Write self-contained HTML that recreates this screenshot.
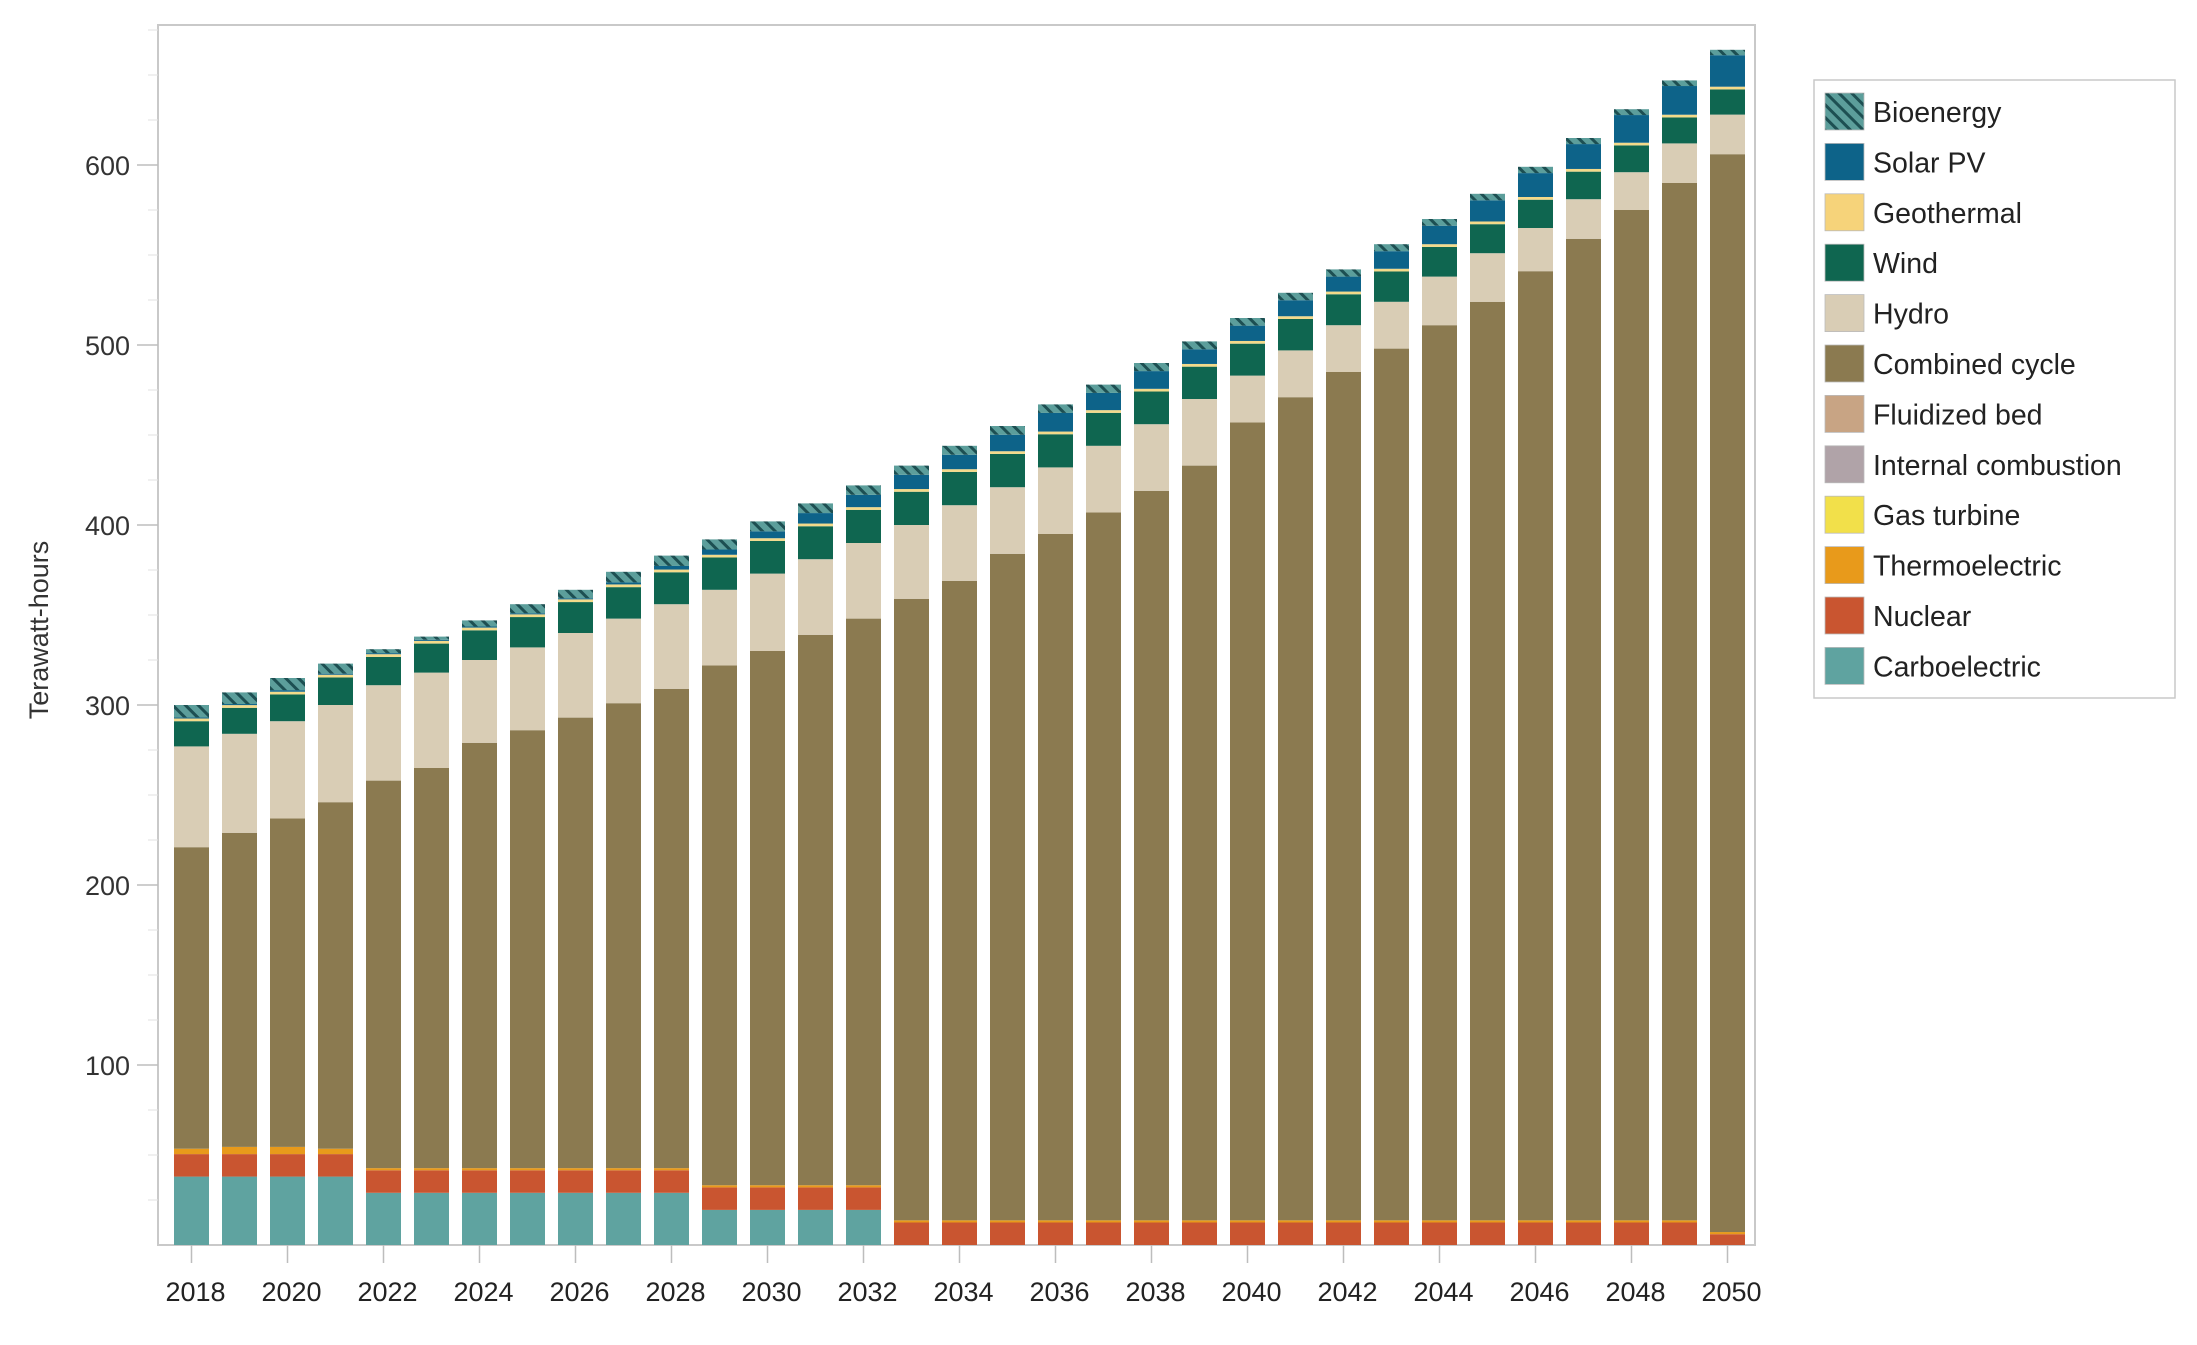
<!DOCTYPE html>
<html><head><meta charset="utf-8"><style>
html,body{margin:0;padding:0;background:#fff;}
svg{display:block;font-family:"Liberation Sans","DejaVu Sans",sans-serif;}
</style></head><body>
<svg id="c" width="2197" height="1345" viewBox="0 0 2197 1345" xmlns="http://www.w3.org/2000/svg">
<defs>
<pattern id="hatch" patternUnits="userSpaceOnUse" width="9" height="9" patternTransform="rotate(-45)">
<rect width="9" height="9" fill="#5c9e9b"/>
<rect x="0" y="0" width="3" height="9" fill="#1d4f52"/>
</pattern>
</defs>
<g id="g"></g>
</svg>
<script>
const g=document.getElementById('g');
const NS='http://www.w3.org/2000/svg';
function el(t,a,txt){const e=document.createElementNS(NS,t);for(const k in a)e.setAttribute(k,a[k]);if(txt!==undefined)e.textContent=txt;g.appendChild(e);return e;}
const X0=158,X1=1755,Y0=25,YB=1245,K=1.8;
const y=v=>YB-v*K;
el('rect',{x:X0,y:Y0,width:X1-X0,height:YB-Y0,fill:'none',stroke:'#c9c9c9','stroke-width':2});
for(let v=25;v<=675;v+=25){
  if(v%100==0){el('line',{x1:137,x2:X0,y1:y(v),y2:y(v),stroke:'#bdbdbd','stroke-width':1.5});
    el('text',{x:130,y:y(v)+10,'text-anchor':'end','font-size':27,fill:'#333'},v);}
  else el('line',{x1:148,x2:X0,y1:y(v),y2:y(v),stroke:'#e2e2e2','stroke-width':1});
}
el('text',{x:48,y:630,'text-anchor':'middle','font-size':27,fill:'#333',transform:'rotate(-90 48 630)'},'Terawatt-hours');
const comb=[221,229,237,246,258,265,279,286,293,301,309,322,330,339,348,359,369,384,395,407,419,433,457,471,485,498,511,524,541,559,575,590,606];
const hyd=[277,284,291,300,311,318,325,332,340,348,356,364,373,381,390,400,411,421,432,444,456,470,483,497,511,524,538,551,565,581,596,612,628];
const tot=[300,307,315,323,331,338,347,356,364,374,383,392,402,412,422,433,444,455,467,478,490,502,515,529,542,556,570,584,599,615,631,647,664];
const C={carbo:'#5fa3a0',nuc:'#c95530',thermo:'#e89a1b',comb:'#8b7a50',hyd:'#d9cdb5',wind:'#0f6650',geo:'#f3da8a',solar:'#0d6389'};
for(let i=0;i<=32;i++){
  const yr=2018+i, cx=191.5+i*48, bx=cx-17.5, w=35;
  let carbo = yr<=2021?38: yr<=2028?29: yr<=2032?19.5:0;
  let nuc = yr==2050?6:12.5;
  let th = yr<=2021?(yr==2018||yr==2021?3:4):1.2;
  const segs=[];
  let b=0;
  const add=(v,f)=>{segs.push([b,b+v,f]);b+=v;};
  add(carbo,C.carbo); add(nuc,C.nuc); add(th,C.thermo);
  add(comb[i]-b,C.comb); add(hyd[i]-comb[i],C.hyd);
  const above=tot[i]-hyd[i];
  const t=i/32;
  const wind=14+4.5*Math.sin(Math.PI*t);
  const bio=7-4*t, geo=1.5;
  let solar=Math.max(0.6,above-wind-bio-geo);
  add(wind,C.wind); add(geo,C.geo); add(solar,C.solar); add(tot[i]-b,'url(#hatch)');
  for(const s of segs){ if(s[1]-s[0]<=0) continue;
    el('rect',{x:bx,y:y(s[1]),width:w,height:(s[1]-s[0])*K,fill:s[2]});}
  if(i%2==0){
    el('line',{x1:cx,x2:cx,y1:YB,y2:YB+18,stroke:'#bdbdbd','stroke-width':1.5});
    el('text',{x:cx+4,y:1301,'text-anchor':'middle','font-size':27,fill:'#222'},yr);
  }
}
el('rect',{x:1814,y:80,width:361,height:618,fill:'#fff',stroke:'#c9c9c9','stroke-width':1.5});
const L=[['Bioenergy','url(#hatch)'],['Solar PV',C.solar],['Geothermal','#f6d37a'],['Wind',C.wind],['Hydro',C.hyd],['Combined cycle',C.comb],['Fluidized bed','#c8a484'],['Internal combustion','#b0a3a8'],['Gas turbine','#f2e04a'],['Thermoelectric','#e89a1b'],['Nuclear',C.nuc],['Carboelectric',C.carbo]];
L.forEach((l,k)=>{const yy=93+k*50.4;
  el('rect',{x:1825,y:yy,width:39,height:37,fill:l[1],stroke:'#bbb','stroke-width':0.8});
  el('text',{x:1873,y:yy+29,'font-size':28.5,fill:'#222'},l[0]);});
</script>
</body></html>
